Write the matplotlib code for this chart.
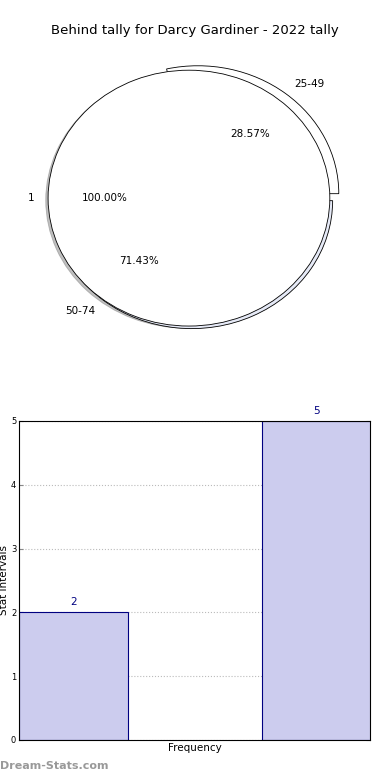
import numpy as np
import matplotlib
matplotlib.use("Agg")
import matplotlib.pyplot as plt

# data
title = "Behind tally for Darcy Gardiner - 2022 tally"
outer_labels = ["1"]
outer_values = [1]
range_labels = ["25-49", "50-74"]
range_values = [2, 5]
bar_values = [2, 5]

fig = plt.figure(figsize=(3.9, 7.8), dpi=100)
fig.patch.set_facecolor("white")

# pie part: the range pie sits underneath, the single "1" pie is drawn over it
ax1 = fig.add_axes([0.033, 0.541, 0.903, 0.410])
ax1.pie(range_values, labels=range_labels, autopct="%1.2f%%", pctdistance=0.6,
        labeldistance=1.1, explode=(0.07, 0.0), center=(0.02, -0.02),
        colors=["white", "#e6eaf7"],
        wedgeprops={"edgecolor": "black", "linewidth": 0.6},
        textprops={"fontsize": 7.5})
ax1.pie(outer_values, labels=outer_labels, autopct="%1.2f%%", pctdistance=0.6,
        labeldistance=1.1, shadow={"ox": -0.012, "oy": -0.012, "shade": 0.5},
        colors=["white"],
        wedgeprops={"edgecolor": "black", "linewidth": 0.6},
        textprops={"fontsize": 7.5})
ax1.set_aspect("auto")
ax1.set_xlim(-1.25, 1.25)
ax1.set_ylim(-1.25, 1.25)
fig.text(0.5, 0.9615, title, ha="center", va="center", fontsize=9.5)

# bar part
ax2 = fig.add_axes([0.0487, 0.0513, 0.90, 0.409])
x = np.arange(len(bar_values))
bars = ax2.bar(x, bar_values, width=0.45, color="#ccccee", edgecolor="navy", linewidth=0.8)
for b, v in zip(bars, bar_values):
    ax2.text(b.get_x() + b.get_width() / 2, v + 0.08, str(v), ha="center", va="bottom",
             fontsize=7.5, color="navy")
ax2.set_xlim(-0.225, 1.222)
ax2.set_ylim(0, 5)
ax2.set_xticks([])
ax2.set_yticks(range(0, 6))
ax2.tick_params(axis="y", labelsize=6, direction="in", length=3, right=True, pad=2,
                color="#888888")
ax2.yaxis.grid(True, linestyle=":", color="#bbbbbb", linewidth=0.8)
ax2.set_axisbelow(True)
ax2.set_xlabel("Frequency", fontsize=7.5, labelpad=2)
ax2.set_ylabel("Stat Intervals", fontsize=7.5, labelpad=1)

fig.text(0.0, 0.012, "Dream-Stats.com", fontsize=8, color="#999999", fontweight="bold",
         ha="left", va="bottom")

fig.savefig("out.png", dpi=100)
